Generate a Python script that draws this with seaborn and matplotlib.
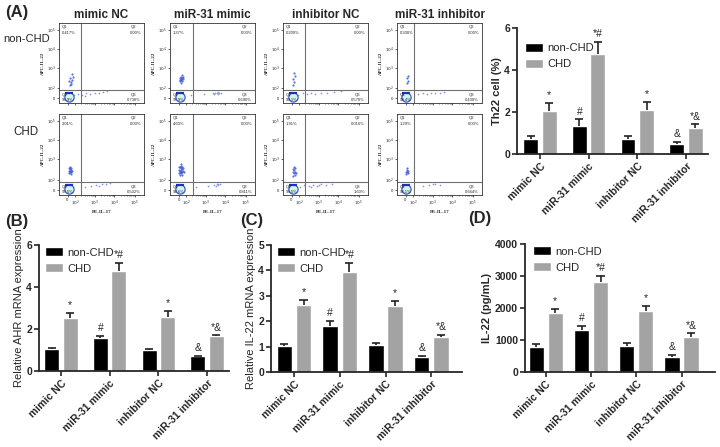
import numpy as np
import pandas as pd
import matplotlib
matplotlib.use("Agg")
import matplotlib.pyplot as plt
import seaborn as sns

sns.set_style("ticks")
plt.rcParams["font.family"] = ["Liberation Sans", "DejaVu Sans"]

# ---------------- data ----------------
groups = ["mimic NC", "miR-31 mimic", "inhibitor NC", "miR-31 inhibitor"]
conds = ["non-CHD", "CHD"]
marks_non = ["", "#", "", "&"]
marks_chd = ["*", "*#", "*", "*&"]

th22_non = [0.71, 1.33, 0.70, 0.46]
th22_non_err = [0.15, 0.32, 0.18, 0.12]
th22_chd = [2.05, 4.74, 2.10, 1.25]
th22_chd_err = [0.38, 0.59, 0.36, 0.16]

ahr_non = [1.05, 1.56, 1.02, 0.70]
ahr_non_err = [0.03, 0.12, 0.03, 0.01]
ahr_chd = [2.54, 4.76, 2.59, 1.65]
ahr_chd_err = [0.24, 0.37, 0.27, 0.05]

il22m_non = [1.03, 1.83, 1.05, 0.59]
il22m_non_err = [0.09, 0.17, 0.08, 0.04]
il22m_chd = [2.63, 3.93, 2.59, 1.38]
il22m_chd_err = [0.20, 0.37, 0.21, 0.09]

il22p_non = [785, 1309, 827, 471]
il22p_non_err = [75, 126, 84, 53]
il22p_chd = [1832, 2806, 1916, 1089]
il22p_chd_err = [126, 199, 146, 115]

# flow panels, order: non-CHD row (4 groups) then CHD row (4 groups)
Q1_PCT = ["0.417%", "1.37%", "0.200%", "0.300%", "2.01%", "4.60%", "1.91%", "1.29%"]
Q2_PCT = ["0.00%", "0.00%", "0.00%", "0.00%", "0.00%", "0.00%", "0.016%", "0.00%"]
Q3_PCT = ["0.730%", "0.690%", "0.570%", "0.430%", "0.502%", "0.811%", "1.60%", "0.664%"]
Q4_PCT = ["98.9%", "97.9%", "99.1%", "99.4%", "97.5%", "94.6%", "96.5%", "98.1%"]
GATE_X = [0.26, 0.27, 0.26, 0.20]
GATE_Y = 0.165

Q4_X = [0.12, 0.12, 0.12, 0.11, 0.12, 0.12, 0.12, 0.11]
Q4_Y = [0.08, 0.08, 0.08, 0.08, 0.08, 0.08, 0.08, 0.08]

Q1_X = [
    [0.13, 0.14, 0.15, 0.13, 0.16, 0.14, 0.12, 0.15],
    [0.12, 0.13, 0.14, 0.13, 0.14, 0.12, 0.15, 0.13, 0.14, 0.13, 0.15, 0.12],
    [0.12, 0.13, 0.12, 0.14, 0.13],
    [0.12, 0.13, 0.12, 0.13],
    [0.12, 0.13, 0.14, 0.13, 0.12, 0.14, 0.13, 0.15, 0.12, 0.14, 0.13, 0.14],
    [0.11, 0.12, 0.13, 0.14, 0.15, 0.12, 0.13, 0.14, 0.11, 0.13, 0.15, 0.12,
     0.14, 0.13, 0.12, 0.14, 0.13, 0.16, 0.11, 0.13],
    [0.12, 0.13, 0.14, 0.13, 0.12, 0.14, 0.15, 0.13, 0.12, 0.14],
    [0.11, 0.12, 0.13, 0.12, 0.11, 0.13, 0.12],
]
Q1_Y = [
    [0.22, 0.26, 0.29, 0.31, 0.33, 0.24, 0.28, 0.36],
    [0.27, 0.29, 0.31, 0.33, 0.28, 0.31, 0.30, 0.25, 0.35, 0.30, 0.33, 0.29],
    [0.22, 0.26, 0.30, 0.34, 0.38],
    [0.25, 0.28, 0.31, 0.34],
    [0.27, 0.29, 0.31, 0.32, 0.30, 0.28, 0.34, 0.30, 0.33, 0.26, 0.30, 0.33],
    [0.27, 0.28, 0.27, 0.28, 0.30, 0.30, 0.31, 0.32, 0.31, 0.33, 0.33, 0.34,
     0.35, 0.36, 0.25, 0.25, 0.29, 0.29, 0.34, 0.38],
    [0.24, 0.27, 0.29, 0.31, 0.28, 0.33, 0.27, 0.35, 0.32, 0.25],
    [0.26, 0.28, 0.30, 0.31, 0.29, 0.27, 0.33],
]
Q3_X = [
    [0.18, 0.22, 0.27, 0.30, 0.32, 0.37, 0.42, 0.47, 0.52, 0.57],
    [0.25, 0.40, 0.50, 0.53, 0.55, 0.57, 0.58, 0.60, 0.52, 0.56],
    [0.18, 0.23, 0.28, 0.33, 0.38, 0.45, 0.52, 0.60, 0.68],
    [0.25, 0.30, 0.35, 0.40, 0.45, 0.50, 0.55],
    [0.30, 0.38, 0.44, 0.47, 0.50, 0.55, 0.60],
    [0.30, 0.45, 0.52, 0.54, 0.55, 0.57, 0.59, 0.56],
    [0.20, 0.25, 0.30, 0.35, 0.40, 0.45, 0.50, 0.58, 0.33, 0.42],
    [0.30, 0.38, 0.45, 0.50, 0.42],
]
Q3_Y = [
    [0.10, 0.11, 0.10, 0.09, 0.12, 0.11, 0.13, 0.12, 0.14, 0.15],
    [0.10, 0.11, 0.12, 0.13, 0.12, 0.14, 0.12, 0.13, 0.11, 0.11],
    [0.10, 0.12, 0.11, 0.12, 0.11, 0.12, 0.13, 0.14, 0.15],
    [0.11, 0.12, 0.11, 0.12, 0.13, 0.12, 0.14],
    [0.10, 0.11, 0.12, 0.11, 0.13, 0.14, 0.15],
    [0.10, 0.11, 0.12, 0.11, 0.13, 0.12, 0.13, 0.14],
    [0.10, 0.12, 0.11, 0.12, 0.11, 0.13, 0.12, 0.13, 0.10, 0.12],
    [0.11, 0.12, 0.13, 0.12, 0.14],
]

# ---------------- layout helpers ----------------
W, H = 720, 447
fig = plt.figure(figsize=(W / 100, H / 100), dpi=100)


def px_axes(x0, y0, x1, y1):
    return fig.add_axes([x0 / W, 1 - y1 / H, (x1 - x0) / W, (y1 - y0) / H])


def ftext(x, y, s, **kw):
    fig.text(x / W, 1 - y / H, s, **kw)


GRAY = "#a3a3a3"
ERRC = "#222222"


def bar_panel(ax, non, non_err, chd, chd_err, ymax, step, ylabel, bold, xlim, width, leg_x, leg_y):
    df = pd.DataFrame({"group": groups * 2,
                       "cond": [conds[0]] * 4 + [conds[1]] * 4,
                       "value": non + chd})
    sns.barplot(data=df, x="group", y="value", hue="cond", order=groups, hue_order=conds,
                palette=["black", GRAY], saturation=1, width=width, gap=0.2,
                errorbar=None, ax=ax)
    for cont, errs, marks in zip(ax.containers[:2], [non_err, chd_err], [marks_non, marks_chd]):
        for bar, e, m in zip(cont, errs, marks):
            x = bar.get_x() + bar.get_width() / 2
            h = bar.get_height()
            cw = bar.get_width() * 0.27
            ax.vlines(x, h, h + e, color=ERRC, lw=1.2)
            ax.hlines(h + e, x - cw, x + cw, color=ERRC, lw=1.2)
            if m:
                ax.annotate(m, (x, h + e), xytext=(0, 2), textcoords="offset points",
                            ha="center", va="bottom", fontsize=7.5, annotation_clip=False)
    handles, labels = ax.get_legend_handles_labels()
    ax.legend(handles, labels, loc="upper left", bbox_to_anchor=(leg_x, leg_y), frameon=False,
              fontsize=8, handlelength=1.6, handleheight=0.9, handletextpad=0.4,
              labelspacing=0.5, borderaxespad=0, borderpad=0.2)
    ax.set_ylim(0, ymax)
    ax.set_yticks(np.arange(0, ymax + step / 2, step))
    ax.set_xlim(*xlim)
    ax.set_xlabel("")
    ax.set_ylabel(ylabel, fontsize=8, fontweight="bold" if bold else "normal", labelpad=2)
    sns.despine(ax=ax)
    for sp in ("left", "bottom"):
        ax.spines[sp].set_linewidth(1.3)
    ax.tick_params(axis="both", width=1.2, length=3.5, labelsize=7.5, pad=1.5)
    for lbl in ax.get_yticklabels():
        lbl.set_fontweight("bold")
    ax.set_xticks(range(4))
    ax.set_xticklabels(groups, rotation=45, ha="right", rotation_mode="anchor",
                       fontweight="bold", fontsize=7.5)


# ---------------- flow cytometry (A) ----------------
FLOW_COLS = [59, 170, 283, 397]
FLOW_W = 85
FLOW_ROWS = [(23, 103), (114, 195)]
XT = [0.10, 0.19, 0.42, 0.65, 0.89]
YT = [0.06, 0.19, 0.44, 0.675, 0.91]
TL = ["0", "$10^2$", "$10^3$", "$10^4$", "$10^5$"]
minor = [0.19 + 0.233 * k + 0.233 * np.log10(m) for k in range(3) for m in range(2, 10)]

for r, (yt, yb) in enumerate(FLOW_ROWS):
    for c, x0 in enumerate(FLOW_COLS):
        i = r * 4 + c
        ax = px_axes(x0, yt, x0 + FLOW_W, yb)
        ax.set_xlim(0, 1)
        ax.set_ylim(0, 1)
        ax.axvline(GATE_X[c], color="#707070", lw=0.8)
        ax.axhline(GATE_Y, color="#707070", lw=0.8)
        sns.scatterplot(x=Q3_X[i], y=Q3_Y[i], ax=ax, s=1.5, color="#8796e8",
                        linewidth=0, legend=False)
        sns.scatterplot(x=Q1_X[i], y=Q1_Y[i], ax=ax, s=2.5, color="#3f5bd6",
                        linewidth=0, alpha=0.85, legend=False)
        ax.scatter([Q4_X[i]], [Q4_Y[i]], s=44, facecolor="#d2f5e9", edgecolor="#3b5bdb",
                   lw=0.9, zorder=3)
        ax.scatter([Q4_X[i]], [Q4_Y[i] + 0.047], marker="_", s=30, color="#1e30b5",
                   lw=1.6, zorder=4)
        fs = 3
        ax.text(0.03, 0.975, "Q1", va="top", fontsize=fs)
        ax.text(0.03, 0.905, Q1_PCT[i], va="top", fontsize=fs)
        ax.text(0.84, 0.975, "Q2", va="top", fontsize=fs)
        ax.text(0.965, 0.905, Q2_PCT[i], va="top", ha="right", fontsize=fs)
        ax.text(0.84, 0.10, "Q3", va="center", fontsize=fs)
        ax.text(0.965, 0.035, Q3_PCT[i], va="center", ha="right", fontsize=fs)
        ax.text(0.03, 0.10, "Q4", va="center", fontsize=fs, zorder=5)
        ax.text(0.03, 0.035, Q4_PCT[i], va="center", fontsize=fs)
        ax.set_xticks(XT)
        ax.set_yticks(YT)
        ax.set_xticks(minor, minor=True)
        ax.set_yticklabels(TL)
        ax.set_xticklabels(TL)
        ax.tick_params(axis="both", labelsize=3, length=1.5, width=0.5, pad=1)
        ax.tick_params(axis="x", which="minor", length=1, width=0.4)
        for sp in ax.spines.values():
            sp.set_linewidth(0.6)
            sp.set_color("#333333")
        ax.set_ylabel("APC-IL-22", fontsize=3.5, family="Liberation Serif",
                      fontweight="bold", labelpad=1.5)
        if r == 0:
            ax.tick_params(axis="x", labelbottom=False)
            ftext(x0 + FLOW_W / 2, 15, groups[c], ha="center", va="center",
                  fontsize=8.5, fontweight="bold")
        else:
            ax.set_xlabel("PE-IL-17", fontsize=3.5, family="Liberation Serif",
                          fontweight="bold", labelpad=1.5)

ftext(5, 13, "(A)", ha="left", va="center", fontsize=12, fontweight="bold")
ftext(3, 39, "non-CHD", ha="left", va="center", fontsize=8)
ftext(13, 132, "CHD", ha="left", va="center", fontsize=8.3)
ftext(5, 222, "(B)", ha="left", va="center", fontsize=12, fontweight="bold")
ftext(240, 221, "(C)", ha="left", va="center", fontsize=12, fontweight="bold")
ftext(468, 218, "(D)", ha="left", va="center", fontsize=12, fontweight="bold")

# ---------------- bar panels ----------------
ax_t = px_axes(517, 28, 708, 154)
bar_panel(ax_t, th22_non, th22_non_err, th22_chd, th22_chd_err, 6, 2, "Th22 cell (%)", True,
          (-0.47, 3.45), 0.76, 0.03, 0.90)

ax_b = px_axes(39, 245, 229, 371)
bar_panel(ax_b, ahr_non, ahr_non_err, ahr_chd, ahr_chd_err, 6, 2,
          "Relative AHR mRNA expression", False, (-0.45, 3.45), 0.76, 0.02, 1.0)

ax_c = px_axes(271, 245, 462, 372)
bar_panel(ax_c, il22m_non, il22m_non_err, il22m_chd, il22m_chd_err, 5, 1,
          "Relative IL-22 mRNA expression", False, (-0.50, 3.67), 0.84, 0.02, 1.0)

ax_d = px_axes(525, 244, 715, 372)
bar_panel(ax_d, il22p_non, il22p_non_err, il22p_chd, il22p_chd_err, 4000, 1000,
          "IL-22 (pg/mL)", True, (-0.46, 3.74), 0.84, 0.03, 1.0)

fig.savefig("out.png", dpi=100)
